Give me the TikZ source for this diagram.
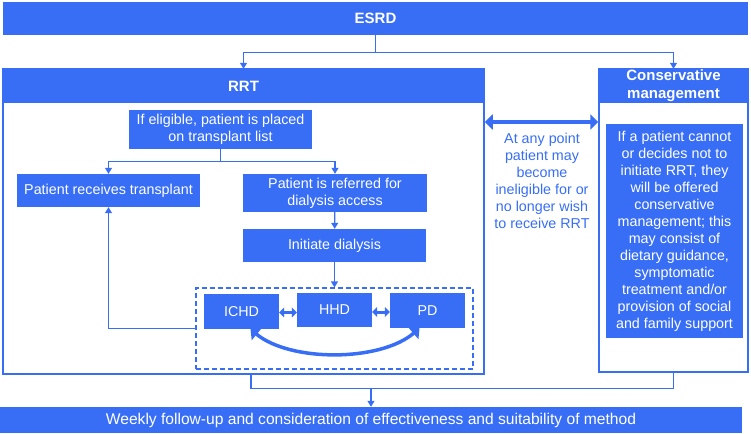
\documentclass[tikz,border=0pt]{standalone}
\usepackage{fontspec}
\setmainfont{Liberation Sans}
\usetikzlibrary{arrows.meta}

\definecolor{rrtblue}{RGB}{55,110,245}

\tikzset{
  box/.style={fill=rrtblue, text=white, inner sep=0pt, align=center,
    font=\fontsize{14.3}{17}\selectfont},
  headbox/.style={box, font=\fontsize{15}{18}\selectfont\bfseries},
  frame/.style={draw=rrtblue, line width=1.5pt, inner sep=0pt},
  link/.style={draw=rrtblue, line width=1.2pt},
  arr/.style={link, -{Triangle[length=6pt,width=7pt]}},
  bigarr/.style={draw=rrtblue, line width=3.5pt,
    {Triangle[length=8pt,width=15pt]}-{Triangle[length=8pt,width=15pt]}},
  smallarr/.style={draw=rrtblue, line width=3pt,
    {Triangle[length=5pt,width=10pt]}-{Triangle[length=5pt,width=10pt]}},
  note/.style={text=rrtblue, align=center, inner sep=0pt,
    font=\fontsize{14.3}{17}\selectfont}
}

\begin{document}
\begin{tikzpicture}[x=1pt,y=-1pt]
    \useasboundingbox (0,0) rectangle (751,433);

    % Frames
    \node[frame, minimum width=481, minimum height=305] (rrtframe) at (243.5,221.5) {};
    \node[frame, minimum width=149, minimum height=303] (consframe) at (673.5,220.5) {};
    \node[draw=rrtblue, dash pattern=on 5pt off 3pt, line width=1.2pt, minimum width=277, minimum height=81] (dialbox) at (334.5,328.5) {};

    % Headers
    \node[headbox, minimum width=745, minimum height=33] (esrd) at (375.5,18.5) {ESRD};
    \node[headbox, minimum width=481, minimum height=34] (rrthead) at (243.5,86) {RRT};
    \node[headbox, minimum width=149, minimum height=34] (conshead) at (673.5,86) {Conservative\\management};

    % Boxes
    \node[box, minimum width=183, minimum height=39] (elig) at (220.5,129.5) {If eligible, patient is placed\\on transplant list};
    \node[box, minimum width=183, minimum height=33] (transplant) at (108.5,190.5) {Patient receives transplant};
    \node[box, minimum width=184, minimum height=38] (referred) at (335,193) {Patient is referred for\\dialysis access};
    \node[box, minimum width=183, minimum height=33] (initiate) at (334.5,245.5) {Initiate dialysis};
    \node[box, minimum width=75, minimum height=35] (ichd) at (241.5,311.5) {ICHD};
    \node[box, minimum width=75, minimum height=34] (hhd) at (334.5,310) {HHD};
    \node[box, minimum width=75, minimum height=35] (pd) at (427.5,310.5) {PD};
    \node[box, minimum width=137, minimum height=214] (consinfo) at (674.5,231) {If a patient cannot\\or decides not to\\initiate RRT, they\\will be offered\\conservative\\management; this\\may consist of\\dietary guidance,\\symptomatic\\treatment and/or\\provision of social\\and family support};
    \node[box, font=\fontsize{15.6}{18}\selectfont, minimum width=742, minimum height=26] (weekly) at (371,420) {Weekly follow-up and consideration of effectiveness and suitability of method};
    \node[note] (anypoint) at (542,181) {At any point\\patient may\\become\\ineligible for or\\no longer wish\\to receive RRT};

    % Edges
    \draw[link] (esrd.south) -- ++(0,17) coordinate (esrdj);
    \draw[arr] (esrdj) -| (rrthead.north);
    \draw[arr] (esrdj) -| (conshead.north);
    \draw[link] (elig.south) -- ++(0,12) coordinate (eligj);
    \draw[arr] (eligj) -| (transplant.north);
    \draw[arr] (eligj) -| (referred.north);
    \draw[arr] (referred) -- (initiate);
    \draw[arr] (initiate) -- (dialbox);
    \draw[arr] (dialbox.west) -| (transplant.south);
    \draw[smallarr] (ichd.east |- 0,312.5) -- (hhd.west |- 0,312.5);
    \draw[smallarr] (hhd.east |- 0,312) -- (pd.west |- 0,312);
    \draw[bigarr] ([xshift=9pt]ichd.south) .. controls (290,362) and (380,362) .. ([xshift=-8pt]pd.south);
    \draw[bigarr] (rrtframe.east |- 0,122) -- (consframe.west |- 0,122);
    \draw[link] ([xshift=7.5pt]rrtframe.south) -- ++(0,14) coordinate (fb) -| (consframe.south);
    \draw[arr] (fb -| weekly.north) -- (weekly.north);
\end{tikzpicture}
\end{document}
